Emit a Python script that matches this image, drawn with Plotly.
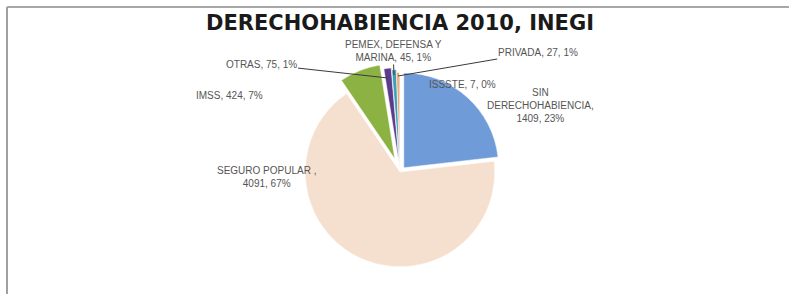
import plotly.graph_objects as go

categories = ["SIN DERECHOHABIENCIA", "SEGURO POPULAR", "IMSS", "OTRAS",
              "PEMEX, DEFENSA Y MARINA", "PRIVADA", "ISSSTE"]
display_labels = ["SIN<br>DERECHOHABIENCIA,", "SEGURO POPULAR ,", "IMSS,", "OTRAS,",
                  "PEMEX, DEFENSA Y<br>MARINA,", "PRIVADA,", "ISSSTE,"]
values = [1409, 4091, 424, 75, 45, 27, 7]
percent_labels = ["23%", "67%", "7%", "1%", "1%", "1%", "0%"]
colors = ["#6f9bd8", "#f5dfcf", "#8cb244", "#5c3b8c", "#3a9fb7", "#f0a060", "#c0504d"]
pulls = [0.06, 0.0, 0.15, 0.1, 0.08, 0.05, 0.0]

W, H = 789, 294

def label_text(i):
    lab = display_labels[i]
    sep = "<br>" if (lab.startswith("SIN") or lab.startswith("SEGURO")) else " "
    return f"{lab}{sep}{values[i]}, {percent_labels[i]}"

fig = go.Figure()
fig.add_trace(go.Pie(
    labels=categories,
    values=values,
    textinfo="none",
    sort=False,
    direction="clockwise",
    rotation=0,
    pull=pulls,
    marker=dict(colors=colors, line=dict(color="#ffffff", width=0.5)),
    showlegend=False,
    domain=dict(x=[0.33, 0.684], y=[0.044, 0.786]),
    hoverinfo="label+value+percent",
))

def px(x):
    return x / W

def py(y):
    return 1 - y / H

font = dict(family="Liberation Sans, Arial, sans-serif", size=10, color="#555555")

# label placement: (text centre x, y in px, arrow tip x, y in px or None)
placements = {
    0: (596, 106, None),
    1: (266, 177, None),
    2: (194, 88, None),
    3: (261, 64, (388, 78)),
    4: (393, 51, (394, 75)),
    5: (538, 52, (398, 76)),
    6: (462, 77, None),
}

annotations = []
for i, (tx, ty, tip) in placements.items():
    if tip is None:
        annotations.append(dict(x=px(tx), y=py(ty), xref="paper", yref="paper",
                                text=label_text(i), showarrow=False, font=font,
                                align="center"))
    else:
        annotations.append(dict(x=px(tip[0]), y=py(tip[1]), xref="paper", yref="paper",
                                ax=tx - tip[0], ay=ty - tip[1], axref="pixel", ayref="pixel",
                                text=label_text(i), showarrow=True, arrowhead=0,
                                arrowwidth=1, arrowcolor="#3a3a3a", font=font,
                                align="center"))

fig.update_layout(
    width=W, height=H,
    margin=dict(l=0, r=0, t=0, b=0, autoexpand=False),
    paper_bgcolor="#ffffff",
    title=dict(text="<b>DERECHOHABIENCIA 2010, INEGI</b>",
               x=0.507, xanchor="center", y=1 - 23 / H, yanchor="middle",
               font=dict(family="DejaVu Sans, Verdana, sans-serif", size=21, color="#1a1a1a")),
    annotations=annotations,
    shapes=[
        dict(type="line", xref="paper", yref="paper", x0=px(7), x1=1.0, y0=py(7), y1=py(7),
             line=dict(color="#a8a8a8", width=2)),
        dict(type="line", xref="paper", yref="paper", x0=px(7), x1=px(7), y0=0.0, y1=py(7),
             line=dict(color="#a0a0a0", width=2)),
    ],
)

fig.write_html("out.html",
               config={"displayModeBar": False},
               post_script="document.body.style.margin='0';document.body.style.padding='0';")
